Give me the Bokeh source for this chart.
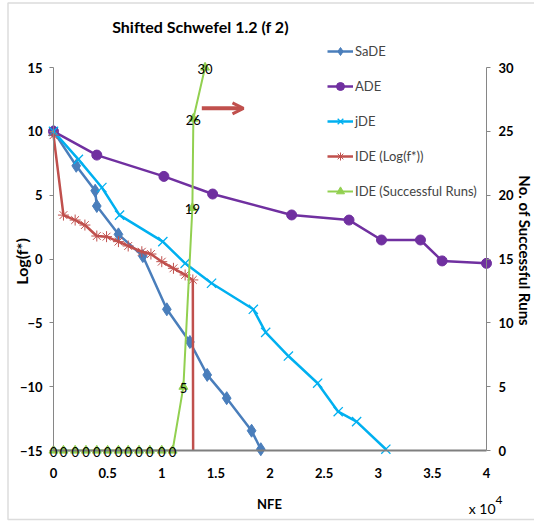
import math
from bokeh.plotting import figure
from bokeh.models import (Range1d, LinearAxis, Label, Legend, LegendItem, Arrow,
                          OpenHead, FixedTicker, ColumnDataSource, LabelSet, BoxAnnotation)
from bokeh.embed import file_html
from bokeh.resources import INLINE
from bokeh.core.properties import value

# ---------------- data ----------------
sade_x = [0, 0.21, 0.385, 0.40, 0.60, 0.825, 1.047, 1.26, 1.42, 1.60, 1.83, 1.915]
sade_y = [10, 7.3, 5.35, 4.15, 1.93, 0.23, -3.94, -6.5, -9.08, -10.9, -13.45, -14.9]

ade_x = [0, 0.40, 1.02, 1.47, 2.20, 2.73, 3.03, 3.39, 3.59, 4.0]
ade_y = [10, 8.14, 6.47, 5.09, 3.45, 3.05, 1.49, 1.49, -0.15, -0.34]

jde_x = [0, 0.23, 0.447, 0.61, 1.01, 1.216, 1.46, 1.846, 1.96, 2.17, 2.44, 2.63, 2.80, 3.07]
jde_y = [10, 7.8, 5.6, 3.44, 1.36, -0.34, -1.9, -3.94, -5.75, -7.6, -9.73, -11.96, -12.74, -14.9]

ide_x = [0, 0.092, 0.2, 0.29, 0.4, 0.49, 0.6, 0.69, 0.816, 0.9, 1.0, 1.108, 1.216, 1.287, 1.29]
ide_y = [9.7, 3.44, 3.05, 2.66, 1.8, 1.75, 1.36, 1.02, 0.57, 0.39, -0.21, -0.73, -1.25, -1.64, -15]

runs_x = [0, 0.092, 0.2, 0.30, 0.40, 0.50, 0.60, 0.69, 0.79, 0.89, 1.0, 1.10, 1.20, 1.283, 1.292, 1.40]
runs_y = [0, 0, 0, 0, 0, 0, 0, 0, 0, 0, 0, 0, 5, 19, 26, 30]

left_ticks = [-15, -10, -5, 0, 5, 10, 15]
right_ticks = [0, 5, 10, 15, 20, 25, 30]
x_ticks = [0, 0.5, 1, 1.5, 2, 2.5, 3, 3.5, 4]
x_tick_labels = ["0", "0.5", "1", "1.5", "2", "2.5", "3", "3.5", "4"]

title_text = "Shifted Schwefel 1.2 (f 2)"
names = ["SaDE", "ADE", "jDE", "IDE (Log(f*))", "IDE (Successful Runs)"]
x_label = "NFE"
y_label = "Log(f*)"
y2_label = "No. of  Successful Runs"

# ---------------- style / layout ----------------
C_SADE = "#4A7EBB"
C_ADE = "#7030A0"
C_JDE = "#00B0F0"
C_IDE = "#C0504D"
C_RUNS = "#92D050"
AXIS_C = "#868686"
FONT = "Lato"

W, H = 534, 522
PXX = 433 / 4.0          # pixels per x unit
PXY = 383 / 30.0         # pixels per left-axis unit
X0, Y15 = 53, 67         # canvas position of x=0 and of y=15
x_lo, x_hi = -X0 / PXX, (W - X0) / PXX
y_hi = 15 + Y15 / PXY
y_lo = 15 - (H - Y15) / PXY

def cx(px):   # canvas px -> x data
    return (px - X0) / PXX

def cy(py):   # canvas py -> left-axis data
    return 15 - (py - Y15) / PXY

p = figure(frame_width=W, frame_height=H, output_backend="svg", toolbar_location=None,
           x_range=Range1d(x_lo, x_hi), y_range=Range1d(y_lo, y_hi), title=None,
           min_border_left=0, min_border_right=0, min_border_top=0, min_border_bottom=0)
p.extra_y_ranges = {"runs": Range1d(y_lo + 15, y_hi + 15)}
p.grid.visible = False
p.outline_line_color = None
p.background_fill_color = "white"
p.border_fill_color = "white"

# chart-area border
p.add_layout(BoxAnnotation(left=cx(7.5), right=cx(W + 20), top=cy(2.5), bottom=cy(519),
                           fill_alpha=0, line_color="#8C8C8C", line_width=1.5))

# axes (drawn at fixed data locations)
xa = p.xaxis[0]
xa.ticker = FixedTicker(ticks=x_ticks)
xa.major_label_overrides = {t: l for t, l in zip(x_ticks, x_tick_labels)}
xa.fixed_location = -15
xa.bounds = (0, 4)
xa.major_tick_out = 0
xa.major_tick_in = 0
xa.minor_tick_out = 0
xa.minor_tick_in = 0
xa.axis_line_color = "#7F7F7F"
xa.axis_line_width = 2
xa.major_label_standoff = 17

ya = p.yaxis[0]
ya.ticker = FixedTicker(ticks=left_ticks)
ya.fixed_location = 0
ya.bounds = (-15, 15)
ya.major_tick_out = 4
ya.major_tick_in = 0
ya.minor_tick_out = 0
ya.minor_tick_in = 0
ya.axis_line_color = AXIS_C
ya.major_tick_line_color = AXIS_C
ya.major_label_standoff = 7

ra = LinearAxis(y_range_name="runs", ticker=FixedTicker(ticks=right_ticks),
                bounds=(0, 30), fixed_location=4)
ra.major_tick_out = 4
ra.major_tick_in = 0
ra.minor_tick_out = 0
ra.minor_tick_in = 0
ra.axis_line_color = AXIS_C
ra.major_tick_line_color = AXIS_C
ra.major_label_standoff = 8
p.add_layout(ra, "right")

for ax in (xa, ya, ra):
    ax.major_label_text_font = FONT
    ax.major_label_text_font_style = "bold"
    ax.major_label_text_font_size = "13px"
    ax.major_label_text_color = "black"

# series
l1 = p.line(sade_x, sade_y, line_color=C_SADE, line_width=2.5)
s1 = p.scatter(sade_x, sade_y, marker="diamond", size=13, fill_color=C_SADE, line_color=C_SADE)

l2 = p.line(ade_x, ade_y, line_color=C_ADE, line_width=2.5)
s2 = p.scatter(ade_x, ade_y, marker="circle", size=10, fill_color=C_ADE, line_color=C_ADE)

l3 = p.line(jde_x, jde_y, line_color=C_JDE, line_width=2.5)
s3 = p.scatter(jde_x, jde_y, marker="x", size=13, line_color=C_JDE, line_width=1.3)

l4 = p.line(ide_x, ide_y, line_color=C_IDE, line_width=2.5)
s4 = p.scatter(ide_x[:-1], ide_y[:-1], marker="asterisk", size=11, line_color=C_IDE, line_width=1)

l5 = p.line(runs_x, runs_y, line_color=C_RUNS, line_width=2, y_range_name="runs")
s5 = p.scatter(runs_x, runs_y, marker="triangle", size=9, fill_color=C_RUNS, line_color=C_RUNS,
               y_range_name="runs")

runs_src = ColumnDataSource(dict(x=runs_x, y=runs_y, t=[str(v) for v in runs_y]))
p.add_layout(LabelSet(x="x", y="y", text="t", source=runs_src, y_range_name="runs",
                      text_align="center", text_baseline="middle", y_offset=-1,
                      text_font=value(FONT), text_font_size="13px", text_color="black"))

# legend (position in pixels from the frame's bottom-left)
legend = Legend(items=[LegendItem(label=n, renderers=[l, s]) for n, l, s in
                       zip(names, [l1, l2, l3, l4, l5], [s1, s2, s3, s4, s5])],
                location=(327, H - 201), orientation="vertical",
                glyph_width=26, glyph_height=20, label_height=20, spacing=15,
                label_standoff=2, padding=0, margin=0,
                label_text_font=FONT, label_text_font_size="13px",
                background_fill_alpha=0, border_line_color=None)
p.add_layout(legend, "center")

# arrow
arrow_x0, arrow_x1, arrow_y = 1.37, 1.755, 11.8
p.add_layout(Arrow(end=OpenHead(size=11, line_width=3, line_color=C_IDE),
                   x_start=arrow_x0, y_start=arrow_y, x_end=arrow_x1, y_end=arrow_y,
                   line_color=C_IDE, line_width=4))

# texts
def txt(px, py, t, size, bold=True, align="center", angle=0.0):
    p.add_layout(Label(x=cx(px), y=cy(py), text=t, text_align=align, text_baseline="middle",
                       angle=angle, text_font=FONT,
                       text_font_style="bold" if bold else "normal",
                       text_font_size=size, text_color="black"))

txt(200, 26, title_text, "16px")
txt(21, 261, y_label, "16px", angle=math.pi / 2)
txt(524, 252, y2_label, "15px", angle=-math.pi / 2)
txt(269, 503, x_label, "13px")
txt(495, 508, "x 10", "14px", bold=False, align="right")
txt(495, 499, "4", "12px", bold=False, align="left")

open("out.html", "w").write(file_html(p, INLINE))
